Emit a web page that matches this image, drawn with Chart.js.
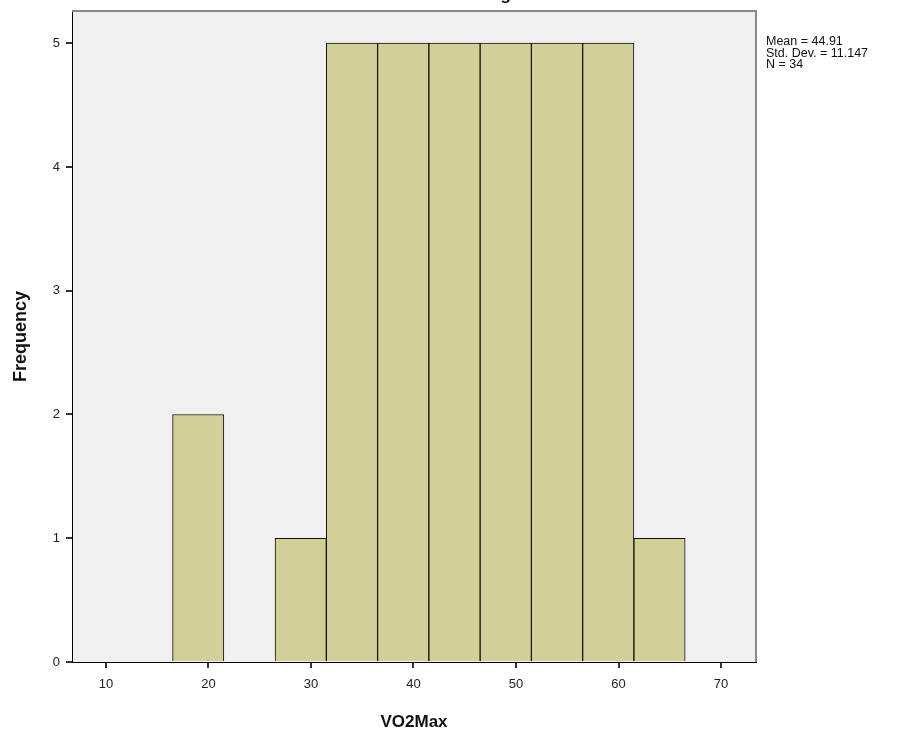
<!DOCTYPE html>
<html>
<head>
<meta charset="utf-8">
<script src="https://cdn.jsdelivr.net/npm/chart.js@4"></script>
<style>
  html, body { margin: 0; padding: 0; background: #fff; }
  #wrap { width: 919px; height: 737px; }
</style>
</head>
<body>
<div id="wrap"><canvas id="hist"></canvas></div>
<script>
// histogram bins (centre of each 5-wide bin) and counts
const binCenters = [19, 24, 29, 34, 39, 44, 49, 54, 59, 64];
const counts = [2, 0, 1, 5, 5, 5, 5, 5, 5, 1];
const xTicks = [10, 20, 30, 40, 50, 60, 70];
const yTicks = [0, 1, 2, 3, 4, 5];
const statLines = ['Mean = 44.91', 'Std. Dev. = 11.147', 'N = 34'];

const FONT = "'Liberation Sans', Arial, sans-serif";

// plot background, top/right frame, cut-off title and the stats box
const decor = {
  id: 'decor',
  beforeDraw(chart) {
    const { ctx, chartArea: a } = chart;
    ctx.save();
    ctx.fillStyle = '#f0f0f0';
    ctx.fillRect(a.left, a.top, a.right - a.left, a.bottom - a.top);
    ctx.restore();
  },
  afterDraw(chart) {
    const { ctx, chartArea: a } = chart;
    ctx.save();
    ctx.strokeStyle = '#8a8a8a';
    ctx.lineWidth = 2;
    ctx.beginPath();
    ctx.moveTo(a.left, a.top);
    ctx.lineTo(a.right, a.top);
    ctx.lineTo(a.right, a.bottom);
    ctx.stroke();

    ctx.fillStyle = '#000';
    ctx.font = 'bold 17px ' + FONT;
    ctx.textAlign = 'center';
    ctx.textBaseline = 'alphabetic';
    ctx.fillText('Histogram', 500, 0);

    ctx.fillStyle = '#111';
    ctx.font = '12.5px ' + FONT;
    ctx.textAlign = 'left';
    ctx.textBaseline = 'middle';
    statLines.forEach((t, i) => ctx.fillText(t, 766, 42 + i * 11.5));
    ctx.restore();
  }
};

const ctx = document.getElementById('hist').getContext('2d');
new Chart(ctx, {
  type: 'bar',
  data: {
    datasets: [{
      data: binCenters.map((x, i) => ({ x: x, y: counts[i] })),
      backgroundColor: '#d3cf98',
      borderColor: '#111',
      borderWidth: 1,
      borderSkipped: 'bottom',
      barPercentage: 1,
      categoryPercentage: 1
    }]
  },
  options: {
    responsive: true,
    maintainAspectRatio: false,
    animation: false,
    events: [],
    layout: { padding: { left: 0, right: 163, top: 11, bottom: 0 } },
    plugins: {
      legend: { display: false },
      tooltip: { enabled: false }
    },
    scales: {
      x: {
        type: 'linear',
        offset: false,
        min: 6.69,
        max: 73.41,
        afterBuildTicks: s => { s.ticks = xTicks.map(v => ({ value: v })); },
        afterFit: s => { s.height = 75; s.paddingLeft = 0; s.paddingRight = 0; },
        grid: { offset: false, drawOnChartArea: false, drawTicks: true, tickLength: 6, color: '#333', lineWidth: 2 },
        border: { color: '#000', width: 1 },
        ticks: { color: '#222', font: { family: FONT, size: 13 }, padding: 9, maxRotation: 0 },
        title: {
          display: true,
          text: 'VO2Max',
          color: '#111',
          font: { family: FONT, size: 17, weight: 'bold' },
          padding: { top: 0, bottom: 4 }
        }
      },
      y: {
        min: 0,
        max: 5.26,
        afterBuildTicks: s => { s.ticks = yTicks.map(v => ({ value: v })); },
        afterFit: s => { s.width = 72; s.paddingTop = 0; s.paddingBottom = 0; },
        grid: { drawOnChartArea: false, drawTicks: true, tickLength: 6, color: '#333', lineWidth: 2 },
        border: { color: '#000', width: 1 },
        ticks: { color: '#222', font: { family: FONT, size: 13 }, padding: 6 },
        title: {
          display: true,
          text: 'Frequency',
          color: '#111',
          font: { family: FONT, size: 18, weight: 'bold' },
          padding: { top: 10, bottom: 0 }
        }
      }
    }
  },
  plugins: [decor]
});
</script>
</body>
</html>
